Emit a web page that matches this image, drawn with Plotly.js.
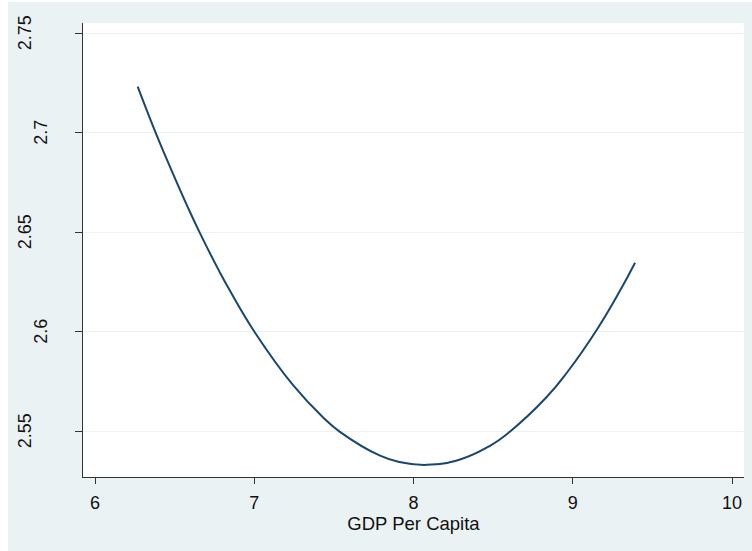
<!DOCTYPE html>
<html>
<head>
<meta charset="utf-8">
<script src="https://cdn.plot.ly/plotly-3.0.1.min.js"></script>
<style>
  html, body { margin: 0; padding: 0; background: #ffffff; }
  #chart { position: absolute; left: 8px; top: 2px; width: 744px; height: 549px; }
</style>
</head>
<body>
<div id="chart"></div>
<script>
// Data
const gdpPerCapita = [6.268, 6.383, 6.492, 6.586, 6.659, 6.779, 6.837, 7.005, 7.245, 7.434, 7.538, 7.790, 7.915, 8.083, 8.292, 8.480, 8.593, 8.836, 8.972, 9.150, 9.297, 9.391];
const fittedValues = [2.7232, 2.6996, 2.6790, 2.6620, 2.6496, 2.6306, 2.6221, 2.5995, 2.5730, 2.5568, 2.5497, 2.5377, 2.5345, 2.5331, 2.5358, 2.5427, 2.5490, 2.5672, 2.5804, 2.6009, 2.6207, 2.6347];

const xTickVals = [6, 7, 8, 9, 10];
const xTickText = ['6', '7', '8', '9', '10'];
const yTickVals = [2.55, 2.6, 2.65, 2.7, 2.75];
const yTickText = ['2.55', '2.6', '2.65', '2.7', '2.75'];
const xTitle = 'GDP Per Capita';

const FONT = 'Liberation Sans, Arial, sans-serif';

const trace = {
  x: gdpPerCapita,
  y: fittedValues,
  type: 'scatter',
  mode: 'lines',
  line: { color: '#1a476f', width: 2, shape: 'spline', smoothing: 1.3 },
  hoverinfo: 'skip'
};

const annotations = yTickVals.map((v, i) => ({
  xref: 'paper', yref: 'y',
  x: 0, y: v,
  text: yTickText[i],
  showarrow: false,
  textangle: -90,
  xanchor: 'center', yanchor: 'middle',
  xshift: yTickText[i].length > 3 ? -58 : -42,
  font: { family: FONT, size: 18, color: '#111' }
}));

const layout = {
  width: 744, height: 549,
  margin: { l: 75, r: 8, t: 21, b: 74 },
  paper_bgcolor: '#eaf2f3',
  plot_bgcolor: '#ffffff',
  showlegend: false,
  font: { family: FONT, size: 18, color: '#111' },
  xaxis: {
    range: [5.9246, 10.075],
    tickvals: xTickVals,
    ticktext: xTickText,
    ticks: 'outside', ticklen: 6, tickwidth: 1, tickcolor: '#333',
    ticklabelstandoff: 3,
    showline: true, linecolor: '#333', linewidth: 1,
    showgrid: false, zeroline: false,
    tickfont: { family: FONT, size: 18, color: '#111' },
    title: { text: xTitle, font: { family: FONT, size: 18.5, color: '#111' }, standoff: 0 }
  },
  yaxis: {
    range: [2.527, 2.7552],
    tickvals: yTickVals,
    showticklabels: false,
    ticks: 'outside', ticklen: 7, tickwidth: 1, tickcolor: '#333',
    showline: true, linecolor: '#333', linewidth: 1,
    showgrid: true, gridcolor: '#eaf2f3', gridwidth: 1,
    zeroline: false
  },
  annotations: annotations
};

Plotly.newPlot('chart', [trace], layout, { displayModeBar: false, staticPlot: true });
</script>
</body>
</html>
